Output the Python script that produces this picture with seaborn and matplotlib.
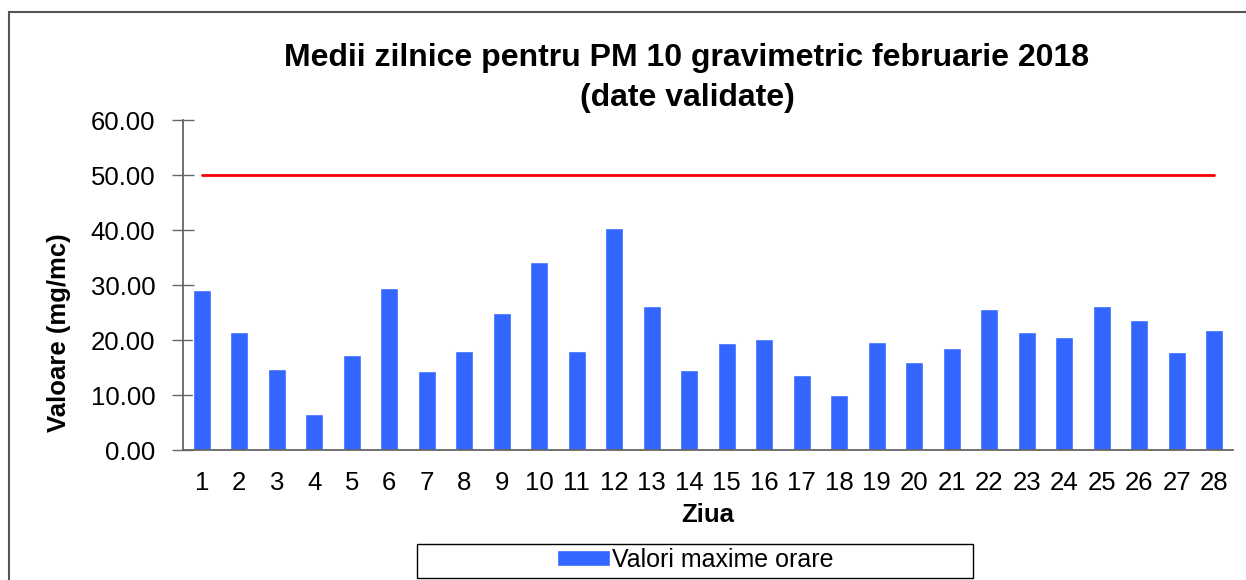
import numpy as np
import pandas as pd
import seaborn as sns
import matplotlib.pyplot as plt
from matplotlib.patches import Rectangle

sns.set_style("white", {'ytick.direction': 'inout', 'text.color': 'black',
                        'axes.labelcolor': 'black'})
plt.rcParams['font.family'] = ['Liberation Sans', 'DejaVu Sans']

# %% data
days = [str(i) for i in range(1, 29)]
pm10 = [29.1, 21.5, 14.7, 6.5, 17.3, 29.5, 14.4, 18.0, 24.9, 34.2,
        18.0, 40.4, 26.2, 14.5, 19.5, 20.2, 13.6, 10.0, 19.6, 16.0,
        18.5, 25.6, 21.5, 20.5, 26.2, 23.6, 17.8, 21.8]
limit = 50.0
yticks = [0, 10, 20, 30, 40, 50, 60]

d = pd.DataFrame({'Ziua': days, 'val': pm10})

# %% plot
fig = plt.figure(figsize=(12.46, 5.8), dpi=100)
ax = fig.add_axes([0.1469, 0.2241, 0.8427, 0.569])

sns.barplot(data=d, x='Ziua', y='val', color='#3366ff', saturation=1,
            width=0.47, ax=ax, label='Valori maxime orare')
ax.plot(days, [limit] * len(days), color='#ff0000', lw=2)
handles, labels = ax.get_legend_handles_labels()
if ax.get_legend() is not None:
    ax.get_legend().remove()

ax.set_xlim(-0.5, len(days) - 0.5)
ax.set_ylim(0, 60)
ax.set_yticks(yticks)
ax.set_yticklabels(['%.2f' % v for v in yticks])
ax.tick_params(axis='x', length=0, labelsize=18.5, pad=15, labelcolor='black')
ax.tick_params(axis='y', length=16, width=1, color='#666666', pad=12,
               left=True, labelsize=18.5, labelcolor='black')
sns.despine(ax=ax)
for s in ['left', 'bottom']:
    ax.spines[s].set_color('#666666')
    ax.spines[s].set_linewidth(1.3)

ax.set_xlabel('Ziua', fontsize=18.5, fontweight='bold', labelpad=6)
ax.set_ylabel('Valoare (mg/mc)', fontsize=18.5, fontweight='bold')
ax.yaxis.set_label_coords(-0.107, 0.355)
ax.set_title('Medii zilnice pentru PM 10 gravimetric februarie 2018\n(date validate)',
             fontsize=23, fontweight='bold', pad=10, x=0.48, linespacing=1.42)

# legend, centred in a wide frame
fig.legend(handles, labels, loc='center',
           bbox_to_anchor=(0.558, 0.0345), frameon=False, fontsize=18,
           handlelength=2.1, handleheight=0.6, handletextpad=0.1)
fig.patches.append(Rectangle((417 / 1246, 2 / 580), 556 / 1246, 34 / 580,
                             transform=fig.transFigure, fill=False,
                             edgecolor='black', lw=1))
# outer frame (cut at right and bottom)
fig.patches.append(Rectangle((9 / 1246, -0.05), 1.1, 1.05 - 12 / 580,
                             transform=fig.transFigure, fill=False,
                             edgecolor='#555555', lw=1.5))

plt.savefig('out.png', dpi=100)
